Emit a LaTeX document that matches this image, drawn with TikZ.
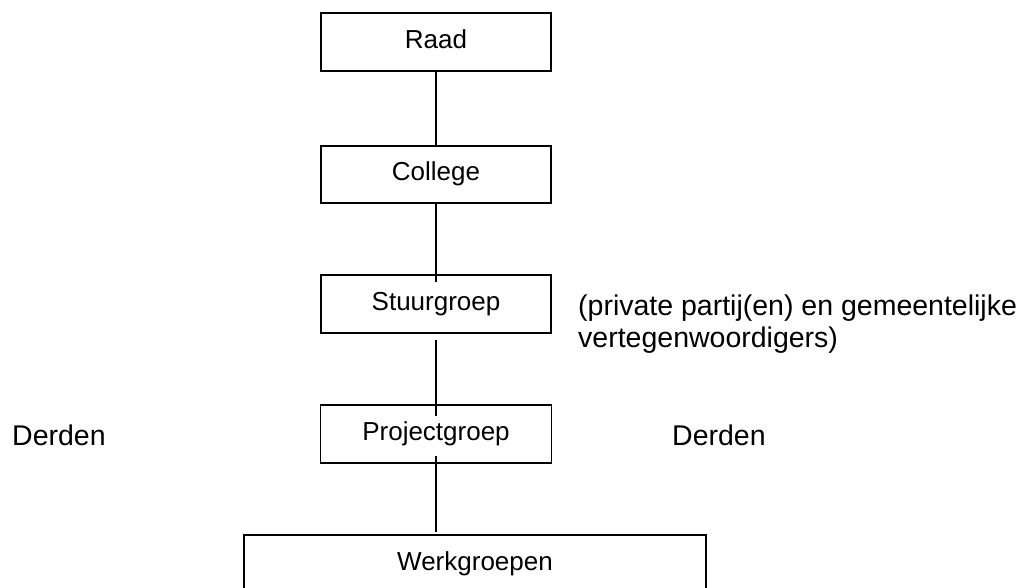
\documentclass[tikz,border=0pt]{standalone}
\usepackage{fontspec}
\setmainfont{Liberation Sans}
\begin{document}
\begin{tikzpicture}[x=1pt,y=-1pt,
  orgbox/.style={draw,line width=1.6pt,minimum width=230pt,minimum height=58pt,inner sep=0pt,
    font=\fontsize{26}{31}\selectfont,text height=19pt,text depth=6pt},
  link/.style={line width=1.6pt},
  side/.style={inner sep=0pt,font=\fontsize{28.5}{32}\selectfont}]
\useasboundingbox (0,0) rectangle (1030,588);
\begin{scope}
\clip (0,0) rectangle (1030,588);
\node[orgbox] (raad) at (436,42) {Raad};
\node[orgbox,minimum height=57pt] (college) at (436,174.5) {College};
\node[orgbox] (stuur) at (436,304) {Stuurgroep};
\node[orgbox,minimum width=231pt] (project) at (436,434) {Projectgroep};
\node[orgbox,minimum width=462pt] (werk) at (475,564) {Werkgroepen};
\end{scope}
\draw[link] (raad.south) -- (college.north);
\draw[link] (college.south) -- ([yshift=-8pt]stuur.north);
\draw[link] ([yshift=-6pt]stuur.south) -- ([yshift=-12pt]project.north);
\draw[link] ([yshift=8pt]project.south) -- ([yshift=2pt]werk.north -| project.south);
\node[side,anchor=base west,align=left] (partij) at (578,347.7) {(private partij(en) en gemeentelijke\\vertegenwoordigers)};
\node[side,anchor=base west] (derdenL) at (12,445) {Derden};
\node[side,anchor=base west] (derdenR) at (672,445) {Derden};
\end{tikzpicture}
\end{document}
